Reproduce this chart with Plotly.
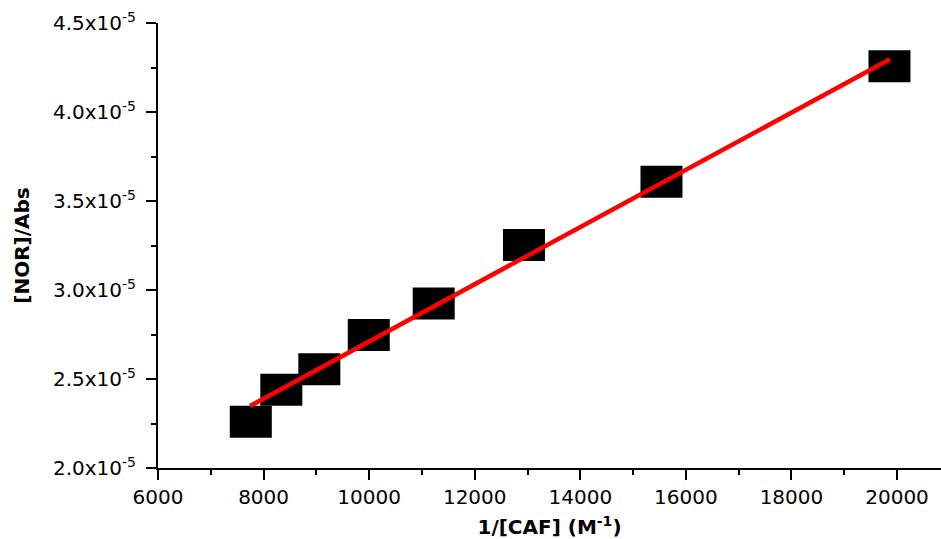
import plotly.graph_objects as go

# data
caf_inv = [7758, 8336, 9056, 9993, 11223, 12933, 15538, 19857]
nor_abs = [2.26e-5, 2.44e-5, 2.555e-5, 2.747e-5, 2.924e-5, 3.253e-5, 3.608e-5, 4.257e-5]
fit_x = [7742, 19866]
fit_y = [2.348e-5, 4.296e-5]

y_tickvals = [2.0e-5, 2.5e-5, 3.0e-5, 3.5e-5, 4.0e-5, 4.5e-5]
y_ticktext = ["2.0x10<sup>-5</sup>", "2.5x10<sup>-5</sup>", "3.0x10<sup>-5</sup>",
              "3.5x10<sup>-5</sup>", "4.0x10<sup>-5</sup>", "4.5x10<sup>-5</sup>"]
x_tickvals = [6000, 8000, 10000, 12000, 14000, 16000, 18000, 20000]
x_ticktext = ["6000", "8000", "10000", "12000", "14000", "16000", "18000", "20000"]

FONT = "DejaVu Sans, Liberation Sans, Arial, sans-serif"

fig = go.Figure()

# rectangular markers as pixel-sized shapes anchored at data coordinates
shapes = []
for xv, yv in zip(caf_inv, nor_abs):
    shapes.append(dict(
        type="rect", xref="x", yref="y",
        xsizemode="pixel", ysizemode="pixel",
        xanchor=xv, yanchor=yv,
        x0=-21, x1=21, y0=-16, y1=16,
        fillcolor="black", line=dict(width=0), layer="below",
    ))

fig.add_trace(go.Scatter(
    x=fit_x, y=fit_y, mode="lines",
    line=dict(color="#ff0000", width=4.5),
    showlegend=False, hoverinfo="skip",
))

fig.update_layout(
    width=941, height=539,
    margin=dict(l=158, r=0, t=23, b=71),
    paper_bgcolor="white", plot_bgcolor="white",
    font=dict(family=FONT, color="black", size=20),
    shapes=shapes,
    showlegend=False,
)

fig.update_xaxes(
    range=[6000, 20833],
    tickvals=x_tickvals, ticktext=x_ticktext,
    ticks="outside", ticklen=10, tickwidth=2, tickcolor="black",
    minor=dict(ticks="outside", ticklen=5, tickwidth=2, tickcolor="black", dtick=1000, tick0=6000),
    showline=True, linewidth=2, linecolor="black",
    showgrid=False, zeroline=False,
    tickfont=dict(size=20, family=FONT),
    title=dict(text="<b>1/[CAF] (M<sup>-1</sup>)</b>", font=dict(size=20, family=FONT), standoff=14),
)
fig.update_yaxes(
    range=[2.0e-5, 4.5e-5],
    tickvals=y_tickvals, ticktext=y_ticktext,
    ticks="outside", ticklen=10, tickwidth=2, tickcolor="black",
    ticklabelstandoff=6,
    minor=dict(ticks="outside", ticklen=5, tickwidth=2, tickcolor="black", dtick=0.25e-5, tick0=2.0e-5),
    showline=True, linewidth=2, linecolor="black",
    showgrid=False, zeroline=False,
    tickfont=dict(size=20, family=FONT),
    title=dict(text="<b>[NOR]/Abs</b>", font=dict(size=20, family=FONT), standoff=18),
)

fig.write_html("out.html")
